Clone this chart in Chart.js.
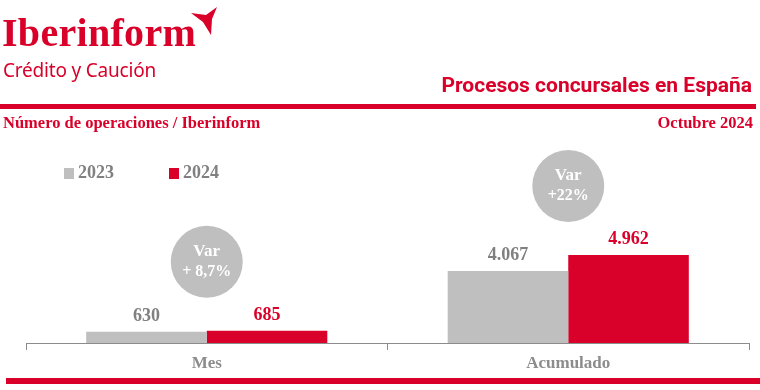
<!DOCTYPE html>
<html>
<head>
<meta charset="utf-8">
<script src="https://cdn.jsdelivr.net/npm/chart.js@4.4.1/dist/chart.umd.min.js"></script>
<style>
  html, body { margin: 0; padding: 0; background: #fff; }
  .page { position: relative; width: 760px; height: 390px; overflow: hidden; }
  .page canvas { position: absolute; left: 0; top: 0; }
  .txt { position: absolute; white-space: nowrap; color: #d9002a; }
  .logo { left: 2px; top: 9px; font: bold 40px "Liberation Serif", serif; letter-spacing: 0.3px; }
  .sub { left: 3px; top: 57px; font: 19px "Noto Sans", sans-serif; letter-spacing: -0.2px; }
  .title { right: 8px; top: 73px; font: bold 21px "Roboto", sans-serif; }
  .rule { position: absolute; background: #d9002a; }
  .left-h { left: 3px; top: 113px; font: bold 16.5px "Liberation Serif", serif; }
  .right-h { right: 7px; top: 113px; font: bold 16.5px "Liberation Serif", serif; }
  .legend { position: absolute; top: 162px; font: bold 18px "Liberation Serif", serif; color: #808080; }
  .legend span.box { display: inline-block; width: 10px; height: 11px; margin-right: 4px; vertical-align: -1px; }
</style>
</head>
<body>
<div class="page">
  <canvas id="chart" width="760" height="390"></canvas>
  <div class="txt logo">Iberinform</div>
  <svg style="position:absolute;left:188px;top:5px" width="34" height="34" viewBox="188 5 34 34">
    <path d="M191,13 L206,15 L217,7 L212,19 L211,35 L203,22 Z" fill="#d9002a"/>
  </svg>
  <div class="txt sub">Crédito y Caución</div>
  <div class="txt title">Procesos concursales en España</div>
  <div class="rule" style="left:0;top:104px;width:756px;height:5px"></div>
  <div class="txt left-h">Número de operaciones / Iberinform</div>
  <div class="txt right-h">Octubre 2024</div>
  <div id="legend"></div>
  <div class="rule" style="left:6px;top:378px;width:754px;height:6px"></div>
</div>
<script>
const categories = ['Mes', 'Acumulado'];
const seriesLabels = ['2023', '2024'];
const values2023 = [630, 4067];
const values2024 = [685, 4962];
const variations = ['+ 8,7%', '+22%'];

const GREY = '#bfbfbf';
const RED = '#d9002a';
const LABEL_GREY = '#808080';

// legend built from the series
const legendX = [64, 169];
const legendColors = [GREY, RED];
const legendElem = document.getElementById('legend');
seriesLabels.forEach((s, i) => {
  const item = document.createElement('div');
  item.className = 'legend';
  item.style.left = legendX[i] + 'px';
  item.innerHTML = `<span class="box" style="background:${legendColors[i]}"></span>${s}`;
  legendElem.appendChild(item);
});

const fmt = (v) => v.toLocaleString('de-DE');

const valueLabels = {
  id: 'valueLabels',
  afterDatasetsDraw(chart) {
    const ctx = chart.ctx;
    ctx.save();
    ctx.font = 'bold 18px "Liberation Serif", serif';
    ctx.textAlign = 'center';
    ctx.textBaseline = 'alphabetic';
    chart.data.datasets.forEach((ds, di) => {
      const meta = chart.getDatasetMeta(di);
      ctx.fillStyle = di === 0 ? LABEL_GREY : RED;
      meta.data.forEach((bar, i) => {
        ctx.fillText(fmt(ds.data[i]), bar.x, bar.y - 11);
      });
    });

    // variation bubbles
    const m0 = chart.getDatasetMeta(0).data;
    const m1 = chart.getDatasetMeta(1).data;
    categories.forEach((c, i) => {
      const cx = (m0[i].x + m1[i].x) / 2;
      const cy = Math.min(m0[i].y, m1[i].y) - 69;
      ctx.beginPath();
      ctx.arc(cx, cy, 36, 0, Math.PI * 2);
      ctx.fillStyle = GREY;
      ctx.fill();
      ctx.fillStyle = '#fff';
      ctx.font = 'bold 17px "Liberation Serif", serif';
      ctx.textBaseline = 'middle';
      ctx.fillText('Var', cx, cy - 10);
      ctx.font = 'bold 16px "Liberation Serif", serif';
      ctx.fillText(variations[i], cx, cy + 10);
    });
    ctx.restore();
  },
};

new Chart(document.getElementById('chart'), {
  type: 'bar',
  data: {
    labels: categories,
    datasets: [
      { label: seriesLabels[0], data: values2023, backgroundColor: GREY },
      { label: seriesLabels[1], data: values2024, backgroundColor: RED },
    ],
  },
  options: {
    responsive: false,
    animation: false,
    events: [],
    layout: { padding: { left: 26, right: 11, top: 148, bottom: 0 } },
    datasets: { bar: { categoryPercentage: 0.667, barPercentage: 1, borderWidth: 0 } },
    plugins: { legend: { display: false }, tooltip: { enabled: false } },
    scales: {
      y: { display: false, min: 0, max: 11000 },
      x: {
        afterFit: (scale) => { scale.height = 47; },
        border: { display: true, color: '#8c8c8c', width: 1 },
        grid: { display: true, drawOnChartArea: false, drawTicks: true, tickLength: 7, color: '#8c8c8c', offset: true },
        ticks: { color: '#8c8c8c', padding: 3, font: { family: '"Liberation Serif", serif', size: 17, weight: 'bold' } },
      },
    },
  },
  plugins: [valueLabels],
});
</script>
</body>
</html>
